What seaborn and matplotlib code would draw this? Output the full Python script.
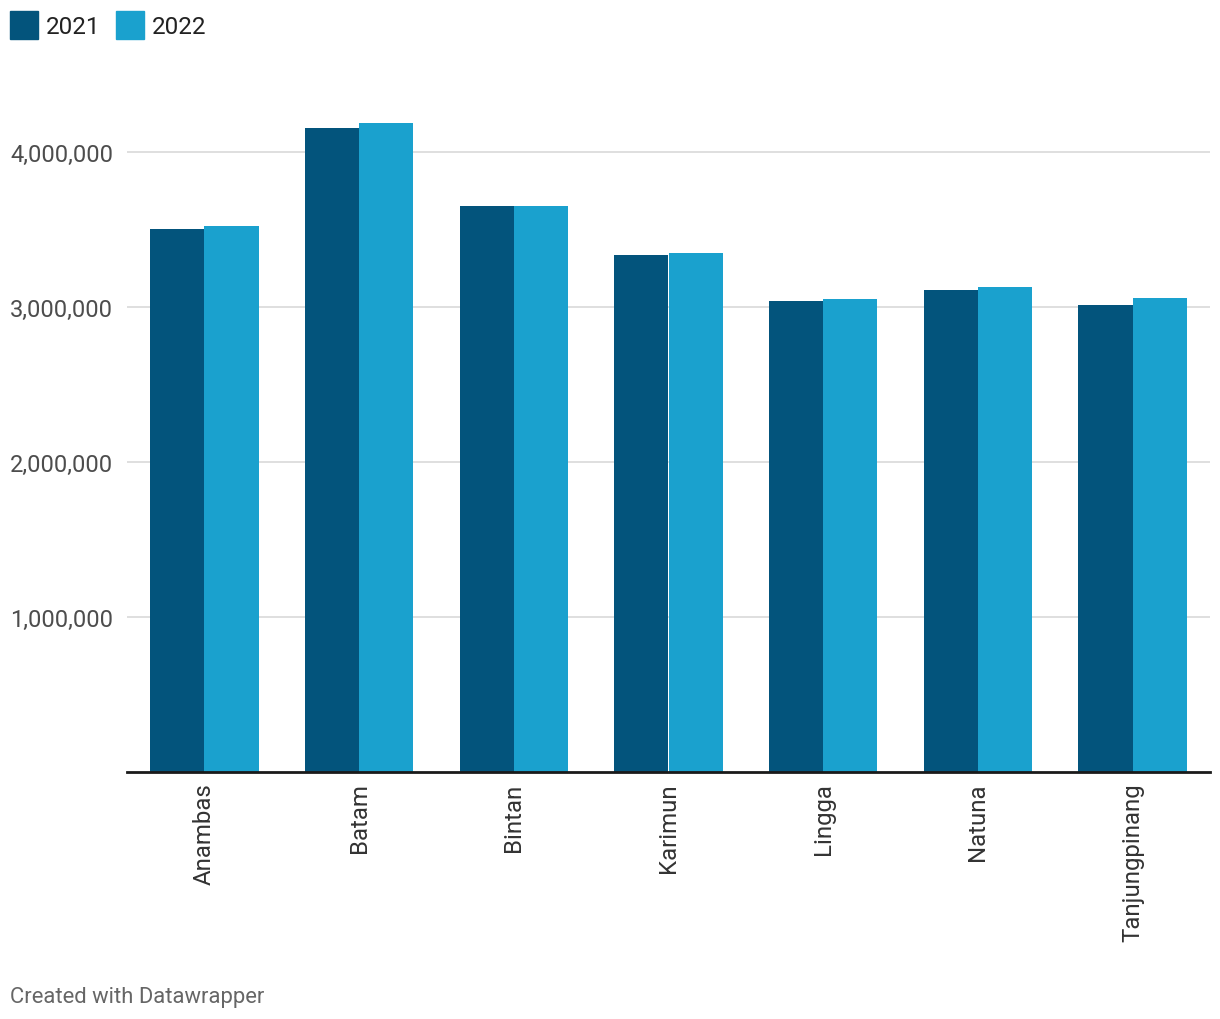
import matplotlib
matplotlib.use("Agg")
import matplotlib.pyplot as plt
import matplotlib.patches as mpatches
import seaborn as sns
import pandas as pd
from matplotlib.ticker import FuncFormatter

categories = ["Anambas", "Batam", "Bintan", "Karimun", "Lingga", "Natuna", "Tanjungpinang"]
values_2021 = [3500000, 4152000, 3648000, 3332000, 3035000, 3106000, 3010000]
values_2022 = [3519000, 4184000, 3648000, 3345000, 3048000, 3126000, 3055000]
years = ["2021", "2022"]
colors = ["#03547c", "#1aa1ce"]
yticks = [1000000, 2000000, 3000000, 4000000]

df = pd.DataFrame({
    "region": categories * 2,
    "year": [years[0]] * len(categories) + [years[1]] * len(categories),
    "value": values_2021 + values_2022,
})

sns.set_theme(style="white")
plt.rcParams["font.family"] = ["Roboto", "DejaVu Sans"]

fig = plt.figure(figsize=(12.2, 10.2), dpi=100)
ax = fig.add_axes([127 / 1220, (1020 - 772.5) / 1020, 1083 / 1220, (772.5 - 75) / 1020])

sns.barplot(data=df, x="region", y="value", hue="year", palette=colors,
            width=0.7, saturation=1, ax=ax, legend=False, zorder=3,
            linewidth=0, edgecolor="none")

ax.set_xlim(-0.5, len(categories) - 0.5)
ax.set_ylim(0, 4500000)
ax.set_yticks(yticks)
ax.yaxis.set_major_formatter(FuncFormatter(lambda v, p: f"{int(v):,}"))
ax.grid(axis="y", color="#d9d9d9", linewidth=1.2, zorder=0)
ax.grid(axis="x", visible=False)
for s in ["top", "right", "left"]:
    ax.spines[s].set_visible(False)
ax.spines["bottom"].set_color("#1a1a1a")
ax.spines["bottom"].set_linewidth(2)
ax.spines["bottom"].set_zorder(5)
ax.tick_params(axis="both", length=0)
ax.tick_params(axis="y", labelsize=17, labelcolor="#4d4d4d", pad=10)
ax.tick_params(axis="x", labelsize=17.3, labelcolor="#333333", pad=8)
for lab in ax.get_xticklabels():
    lab.set_rotation(90)
    lab.set_va("top")
    lab.set_ha("center")
ax.set_xlabel("")
ax.set_ylabel("")

# Legend
fig.patches.append(mpatches.Rectangle((10 / 1220, 1 - 40 / 1020), 28 / 1220, 28 / 1020,
                                      transform=fig.transFigure, color=colors[0]))
fig.text(46 / 1220, 1 - 27 / 1020, years[0], fontsize=17.5, color="#222222", va="center", ha="left")
fig.patches.append(mpatches.Rectangle((116 / 1220, 1 - 40 / 1020), 28 / 1220, 28 / 1020,
                                      transform=fig.transFigure, color=colors[1]))
fig.text(152 / 1220, 1 - 27 / 1020, years[1], fontsize=17.5, color="#222222", va="center", ha="left")

fig.text(10 / 1220, 1 - 998 / 1020, "Created with Datawrapper", fontsize=15.8, color="#666666",
         va="center", ha="left")

fig.savefig("out.png", dpi=100, facecolor="white")
